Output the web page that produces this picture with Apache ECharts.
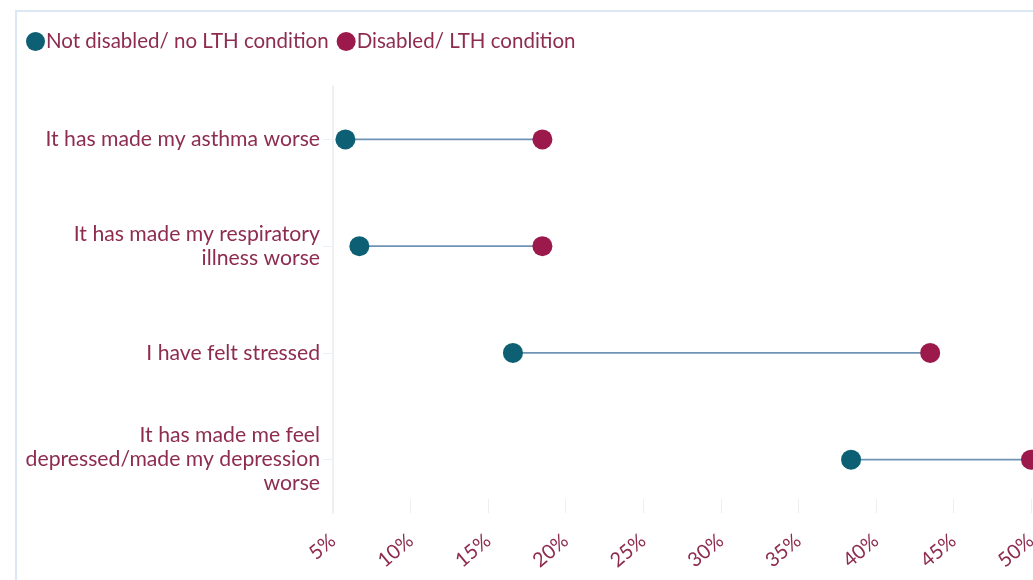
<!DOCTYPE html>
<html><head><meta charset="utf-8">
<script src="https://cdn.jsdelivr.net/npm/echarts@6/dist/echarts.min.js"></script>
<style>
html,body{margin:0;padding:0;background:#fff;overflow:hidden;width:1033px;height:580px;}
#frame{position:absolute;left:15px;top:10px;width:1018px;height:570px;border-left:2px solid #dbe8f3;border-top:2px solid #dbe8f3;box-sizing:border-box;}
#c{position:absolute;left:0;top:0;width:1033px;height:580px;}
</style></head>
<body><div id="frame"></div><div id="c"></div>
<script>
const categories = [
  "It has made my asthma worse",
  "It has made my respiratory\nillness worse",
  "I have felt stressed",
  "It has made me feel\ndepressed/made my depression\nworse"
];
const seriesNames = ["Not disabled/ no LTH condition", "Disabled/ LTH condition"];
const notDisabled = [5.8, 6.7, 16.6, 38.4];
const disabled = [18.5, 18.5, 43.5, 50];
const xTicks = [5, 10, 15, 20, 25, 30, 35, 40, 45, 50];

const teal = "#0d5f73", crimson = "#9b1a4b", labelColor = "#8e2c50", font = "Lato";
const chart = echarts.init(document.getElementById('c'));
chart.setOption({
  animation: false,
  legend: {
    left: 21, top: 26, itemGap: 8, itemWidth: 19, itemHeight: 19, icon: 'circle',
    textStyle: { color: labelColor, fontSize: 20.5, fontFamily: font, padding: [0, 0, 0, -4] },
    data: seriesNames
  },
  grid: { left: 333, right: 2, top: 86, bottom: 67, containLabel: false, outerBoundsMode: 'none' },
  xAxis: {
    type: 'value', min: xTicks[0], max: xTicks[xTicks.length - 1], interval: 5,
    axisLine: { show: false },
    axisTick: { show: true, inside: true, length: 14, lineStyle: { color: '#eceff2' } },
    splitLine: { show: false },
    axisLabel: { rotate: 40, color: labelColor, fontSize: 20, fontFamily: font, margin: 25, formatter: v => v + '%' }
  },
  yAxis: {
    type: 'category', inverse: true, data: categories,
    axisLine: { show: true, lineStyle: { color: '#eef1f4', width: 2 } },
    axisTick: { show: true, alignWithLabel: true, length: 10, lineStyle: { color: '#eef1f4' } },
    axisLabel: { color: labelColor, fontSize: 21.2, fontFamily: font, lineHeight: 24, margin: 13, align: 'right' }
  },
  series: [
    {
      type: 'custom', name: 'range', silent: true, z: 1, clip: false,
      renderItem: function (params, api) {
        const a = api.coord([api.value(0), api.value(2)]);
        const b = api.coord([api.value(1), api.value(2)]);
        return { type: 'line', shape: { x1: a[0], y1: a[1], x2: b[0], y2: b[1] },
          style: { stroke: '#6f93b5', lineWidth: 1.6 } };
      },
      encode: { x: [0, 1], y: 2 },
      data: categories.map((c, i) => [notDisabled[i], disabled[i], i])
    },
    {
      type: 'scatter', name: seriesNames[0], symbolSize: 20, z: 3, clip: false,
      itemStyle: { color: teal, opacity: 1 },
      data: notDisabled.map((v, i) => [v, i])
    },
    {
      type: 'scatter', name: seriesNames[1], symbolSize: 20, z: 3, clip: false,
      itemStyle: { color: crimson, opacity: 1 },
      data: disabled.map((v, i) => [v, i])
    }
  ]
});
</script></body></html>
